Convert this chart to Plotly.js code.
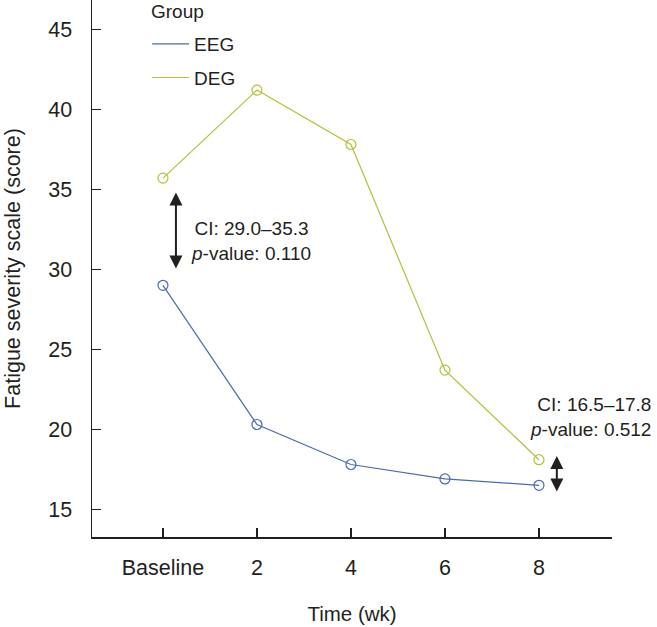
<!DOCTYPE html>
<html>
<head>
<meta charset="utf-8">
<script src="https://cdn.plot.ly/plotly-3.0.1.min.js"></script>
<style>html,body{margin:0;padding:0;background:#fff;}#chart{width:657px;height:627px;}</style>
</head>
<body>
<div id="chart"></div>
<script>
const categories = ['Baseline', '2', '4', '6', '8'];
const eegValues = [29.0, 20.3, 17.8, 16.9, 16.5];
const degValues = [35.7, 41.2, 37.8, 23.7, 18.1];
const yTickVals = [15, 20, 25, 30, 35, 40, 45];
const legendTitle = 'Group';
const ciBaseline = 'CI: 29.0–35.3<br><i>p</i>-value: 0.110';
const ciWeek8 = 'CI: 16.5–17.8<br><i>p</i>-value: 0.512';

const FONT = 'Liberation Sans, Arial, Helvetica, sans-serif';
const TXT = '#231f20';
const BLUE = '#4a6cad';
const GREEN = '#b7bf3a';

const traces = [
  {x: categories, y: eegValues, type: 'scatter', mode: 'lines', name: 'EEG',
   line: {color: BLUE, width: 1.2}, legendgroup: 'a', showlegend: true, hoverinfo: 'skip'},
  {x: categories, y: degValues, type: 'scatter', mode: 'lines', name: 'DEG',
   line: {color: GREEN, width: 1.2}, legendgroup: 'b', showlegend: true, hoverinfo: 'skip'},
  {x: categories, y: eegValues, type: 'scatter', mode: 'markers', name: 'EEG',
   marker: {symbol: 'circle-open', size: 10, color: BLUE, line: {width: 1.2, color: BLUE}},
   showlegend: false, cliponaxis: false},
  {x: categories, y: degValues, type: 'scatter', mode: 'markers', name: 'DEG',
   marker: {symbol: 'circle-open', size: 10, color: GREEN, line: {width: 1.2, color: GREEN}},
   showlegend: false, cliponaxis: false}
];

const layout = {
  width: 657, height: 627,
  margin: {l: 92, r: 45, t: 0, b: 90, pad: 0},
  paper_bgcolor: '#fff', plot_bgcolor: '#fff',
  font: {family: FONT, color: TXT, size: 20},
  showlegend: true,
  legend: {
    x: 0.106, xanchor: 'left', y: 0.9535, yanchor: 'top',
    bgcolor: 'rgba(0,0,0,0)', borderwidth: 0,
    font: {family: FONT, size: 19, color: TXT},
    tracegroupgap: 6, traceorder: 'grouped', itemwidth: 37
  },
  xaxis: {
    type: 'category', range: [-0.755, 4.777],
    showline: true, linecolor: TXT, linewidth: 1.5, mirror: false,
    ticks: 'inside', ticklen: 9, tickwidth: 1.5, tickcolor: TXT,
    showgrid: false, zeroline: false,
    tickfont: {family: FONT, size: 21.5, color: TXT},
    ticklabelstandoff: 11,
    title: {text: 'Time (wk)', font: {family: FONT, size: 20.5, color: TXT}, standoff: 27},
    automargin: false, fixedrange: true
  },
  yaxis: {
    range: [13.27, 46.83], tickvals: yTickVals, ticktext: yTickVals.map(String),
    showline: true, linecolor: TXT, linewidth: 1.5,
    ticks: 'inside', ticklen: 9, tickwidth: 1.5, tickcolor: TXT,
    showgrid: false, zeroline: false,
    tickfont: {family: FONT, size: 21.5, color: TXT},
    ticklabelstandoff: 14,
    title: {text: 'Fatigue severity scale (score)', font: {family: FONT, size: 21.5, color: TXT}, standoff: 22},
    automargin: false, fixedrange: true
  },
  annotations: [
    {x: 0.1098, y: 0.978, xref: 'paper', yref: 'paper', xanchor: 'left', yanchor: 'middle',
     text: legendTitle, showarrow: false, font: {family: FONT, size: 19, color: TXT}},
    {x: 0.138, y: 34.8, ax: 0.138, ay: 29.95, xref: 'x', yref: 'y', axref: 'x', ayref: 'y',
     text: '', showarrow: true, arrowhead: 2, arrowside: 'end+start', arrowsize: 1.3, arrowwidth: 2, arrowcolor: TXT,
     startarrowhead: 2, startarrowsize: 1.3, standoff: 0, startstandoff: 0},
    {x: 4.19, y: 18.33, ax: 4.19, ay: 16.02, xref: 'x', yref: 'y', axref: 'x', ayref: 'y',
     text: '', showarrow: true, arrowhead: 2, arrowside: 'end+start', arrowsize: 1.3, arrowwidth: 2, arrowcolor: TXT,
     startarrowhead: 2, startarrowsize: 1.3, standoff: 0, startstandoff: 0},
    {x: 0.28, y: 31.74, xref: 'x', yref: 'y', xanchor: 'left', yanchor: 'middle', align: 'center',
     text: ciBaseline, showarrow: false, font: {family: FONT, size: 19, color: TXT}},
    {x: 1.079, y: 20.77, xref: 'paper', yref: 'y', xanchor: 'right', yanchor: 'middle', align: 'right',
     text: ciWeek8, showarrow: false, font: {family: FONT, size: 19, color: TXT}}
  ]
};

Plotly.newPlot('chart', traces, layout, {staticPlot: true, displayModeBar: false});
</script>
</body>
</html>
